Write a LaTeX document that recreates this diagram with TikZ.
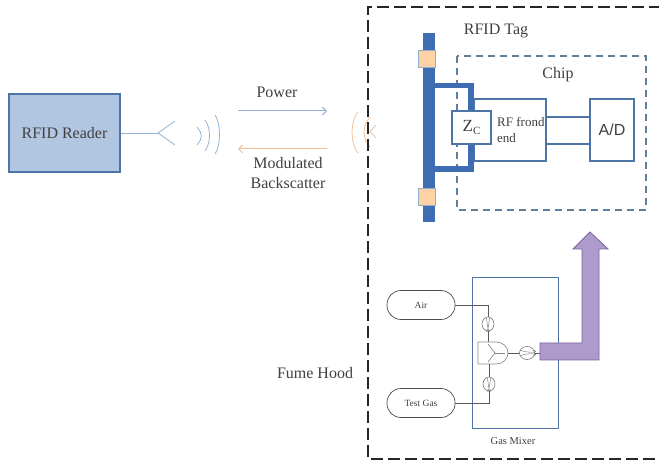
\documentclass[tikz,border=0pt]{standalone}
\usepackage{fontspec}
\usetikzlibrary{arrows.meta,shapes.geometric}
\setmainfont{Liberation Serif}
\setsansfont{Liberation Sans}
\definecolor{readerfill}{HTML}{B1C6E0}
\definecolor{tagblue}{HTML}{4F74A8}
\definecolor{barblue}{HTML}{3E6DB3}
\definecolor{wavered}{HTML}{F2BE94}
\definecolor{waveblue}{HTML}{93B3D6}
\definecolor{chipdash}{HTML}{5F7F9F}
\definecolor{purplefill}{HTML}{AF9BCB}
\definecolor{purpleline}{HTML}{7C62A3}
\begin{document}
\begin{tikzpicture}[x=1pt,y=-1pt,
    every node/.style={font=\fontsize{16}{20}\selectfont,text=black!75,inner sep=0pt,align=center},
    blk/.style={draw=tagblue,line width=1.3pt,fill=white},
    bar/.style={draw=none,fill=barblue},
    pad/.style={draw=tagblue!60,fill=orange!35,line width=.6pt,minimum width=17pt,minimum height=17pt},
    tank/.style={draw=black!70,fill=white,rounded corners=14pt,line width=.7pt,minimum width=68pt,minimum height=29pt,font=\fontsize{9.5}{11}\selectfont},
    meter/.style={ellipse,draw=black!60,fill=white,line width=.5pt,minimum width=12pt,minimum height=14pt},
    pipe/.style={draw=black!65,line width=.8pt},
    rdwave/.style={line width=.8pt,draw=waveblue},
    tgwave/.style={line width=.8pt,draw=wavered},
    hood/.style={draw=black!85,line width=1.3pt,dash pattern=on 12pt off 5pt},
    chipline/.style={draw=chipdash,line width=1.2pt,dash pattern=on 7pt off 5pt}]
  \useasboundingbox (0,0) rectangle (659,462);

  % reader side
  \node[draw=tagblue,fill=readerfill,line width=1.1pt,minimum width=111pt,minimum height=78pt] (reader) at (64.5,133) {RFID Reader};
  \coordinate (fork) at (158,133);
  \coordinate (forkup) at (175,121);
  \coordinate (forkdn) at (175,145);
  \draw[rdwave] (reader.east)--(fork);
  \draw[rdwave] (forkup)--(fork)--(forkdn);
  \foreach \x/\t/\h in {197/127/145,205/120/151,215/115/154}
     \draw[rdwave] (\x,\t) .. controls (\x+6,\t+8) and (\x+6,\h-8) .. (\x,\h);
  \foreach \x/\t/\h in {358/112/153,370/117/147,376/125/138}
     \draw[tgwave] (\x,\t) .. controls (\x-8,\t+10) and (\x-8,\h-10) .. (\x,\h);

  \coordinate (pwrL) at (238,111);
  \coordinate (pwrR) at (327,111);
  \coordinate (bsL) at (238,149);
  \coordinate (bsR) at (327,149);
  \draw[-{Straight Barb[length=4pt]},rdwave,line width=1pt] (pwrL)--(pwrR);
  \draw[-{Straight Barb[length=4pt]},tgwave,line width=1pt] (bsR)--(bsL);
  \node (power) at (277,92) {Power};
  \node (backscatter) at (288,173) {Modulated\\Backscatter};

  % hood and chip outlines
  \draw[hood] (655,459)--(368,459)--(368,7)--(659,7);
  \draw[chipline] (457,56) rectangle (646,210);
  \node (tag) at (496,31) {RFID Tag};
  \node (chip) at (558,75) {Chip};
  \node (hoodlabel) at (315,373) {Fume Hood};

  % tag antenna
  \node[bar,minimum width=12pt,minimum height=189pt] (dipole) at (429,127.5) {};
  \node[blk,minimum width=72pt,minimum height=62pt] (rf) at (510,130) {};
  \node[bar,minimum width=6pt,minimum height=89pt] (stub) at (471,127.5) {};
  \node[bar,minimum width=39pt,minimum height=5pt] (armup) at (454.5,85.5) {};
  \node[bar,minimum width=39pt,minimum height=6pt] (armdn) at (454.5,169) {};
  \node[pad] (padup) at (426.5,58.5) {};
  \node[pad] (paddn) at (426.5,196.5) {};
  \node[blk,minimum width=39pt,minimum height=33pt] (zc) at (471.5,127.5) {\fontsize{17}{20}\selectfont Z\raisebox{-2.5pt}{\fontsize{11}{11}\selectfont C}};
  \node[blk,minimum width=44pt,minimum height=62pt,font=\sffamily\fontsize{16}{20}\selectfont] (ad) at (612,130) {A/D};
  \node[anchor=west,align=left,font=\fontsize{13}{16}\selectfont] (rflabel) at (497,130) {RF frond\\end};
  \foreach \y in {117,144}
     \draw[draw=tagblue,line width=1.2pt] (rf.east |- 0,\y)--(ad.west |- 0,\y);

  % gas mixer
  \node[draw=tagblue,line width=.8pt,minimum width=86pt,minimum height=151pt] (mixer) at (515,352.5) {};
  \node[tank] (air) at (421,305) {Air};
  \node[tank] (testgas) at (421,403) {Test Gas};
  \node[meter] (mtop) at (488,324) {};
  \node[meter] (mbot) at (489,384) {};
  \node[meter,minimum width=15pt,minimum height=13pt] (mout) at (527,353) {};
  \foreach \m in {mtop,mbot}
     \draw[draw=black!55,line width=.4pt] (\m.north) ++(-2,1) .. controls +(2,5) and +(2,7) .. +(0,12)
        (\m.north) ++(2,1) .. controls +(-2,5) and +(-2,7) .. +(0,12);
  \draw[draw=black!55,line width=.4pt] (mout.west) ++(1,-3) .. controls +(4,3) and +(9,3) .. +(13,0)
     (mout.west) ++(1,3) .. controls +(4,-3) and +(9,-3) .. +(13,0);
  \coordinate (gateT) at (488,342);
  \coordinate (gateB) at (489,364);
  \coordinate (gateR) at (508,353);
  \coordinate (gateHub) at (495,353);
  \draw[pipe] (air.east)-|(mtop.north);
  \draw[pipe] (testgas.east)-|(mbot.south);
  \draw[pipe] (mtop.south)--(gateT);
  \draw[pipe] (mbot.north)--(gateB);
  \draw[draw=black!45,line width=.7pt,fill=white] (478,342)--(496,342) .. controls (503,342) and (508,347) .. (gateR) .. controls (508,359) and (503,364) .. (496,364)--(478,364)--cycle;
  \draw[draw=black!45,line width=.7pt] (488,344)--(gateHub)--(488,362);
  \draw[draw=black!45,line width=.7pt] (gateHub)--(505,353);
  \draw[pipe] (gateR)--(mout.west);
  \coordinate (outL) at (540,353);
  \draw[pipe] (mout.east)--(outL);
  \node (mixerlabel) at (513,441) {\fontsize{10.5}{12}\selectfont Gas Mixer};

  % output arrow
  \fill[fill=purplefill,draw=purpleline,line width=.8pt]
     (540,343)--(582,343)--(582,249)--(573,249)--(590,232)--(608,249)--(599,249)--(599,360)--(540,360)--cycle;
\end{tikzpicture}
\end{document}
